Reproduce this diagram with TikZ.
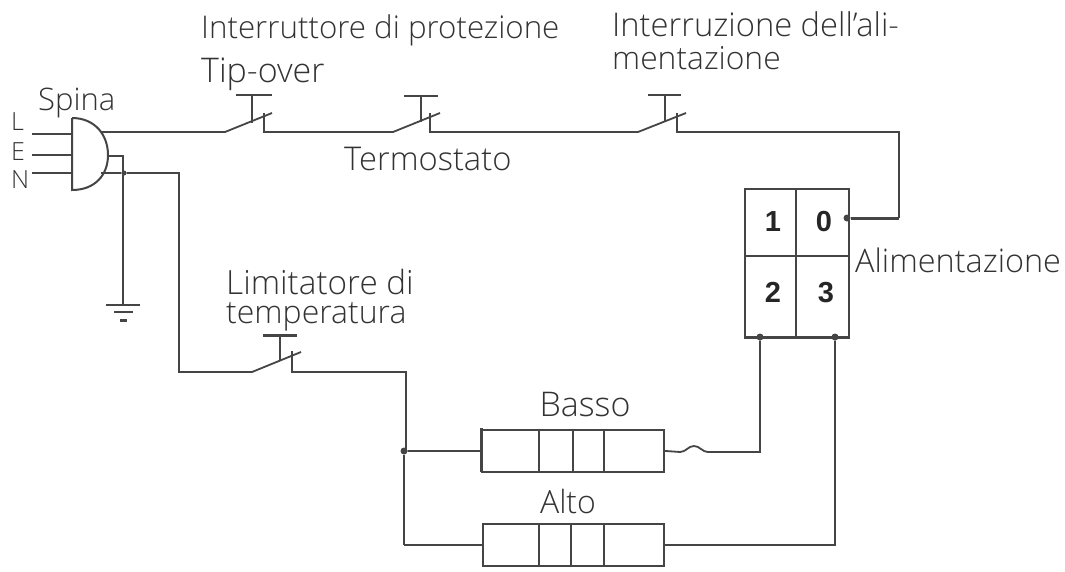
\documentclass[tikz,border=0pt]{standalone}
\usepackage{fontspec}
\setmainfont{Open Sans Light}
\newfontfamily\digitfont{Liberation Sans Bold}
\usetikzlibrary{calc}
\definecolor{wirecol}{gray}{0.27}
\definecolor{textcol}{gray}{0.2}
\tikzset{
  wire/.style={draw=wirecol,line width=1.8pt,line join=miter},
  heavy/.style={draw=wirecol,line width=3pt},
  lab/.style={anchor=base west,inner sep=0pt,text=textcol,font=\fontsize{#1}{#1}\selectfont},
  lab/.default=31,
  labsmall/.style={anchor=base west,inner sep=0pt,text=textcol,font=\fontsize{25}{25}\selectfont},
  labc/.style={anchor=base,inner sep=0pt,text=textcol,font=\fontsize{#1}{#1}\selectfont},
  labc/.default=31,
  digit/.style={anchor=base,inner sep=0pt,text=black!85,font=\digitfont\fontsize{29}{29}\selectfont},
  joint/.style={circle,fill=wirecol,inner sep=0pt,minimum size=7pt},
  cell/.style={draw=wirecol,line width=1.8pt,fill=white,minimum height=42pt,inner sep=0pt}
}
\begin{document}
\begin{tikzpicture}[x=1pt,y=-1pt]
\useasboundingbox (0,0) rectangle (1065,571);
\fill[white] (0,0) rectangle (1065,571);

\coordinate (plugtop) at (72,118);
\coordinate (plugbot) at (72,190);
\coordinate (lL) at (32,134);
\coordinate (lE) at (32,155);
\coordinate (lN) at (32,173);
\coordinate (pL) at (72,134);
\coordinate (pE) at (72,155);
\coordinate (pN) at (72,173);
\coordinate (oL) at (101,132);
\coordinate (oE) at (108,156);
\coordinate (oN) at (101,173);
\coordinate (eC) at (123,156);
\coordinate (gnd) at (123,305);
\coordinate (nJ) at (124,173);
\coordinate (nC) at (179,173);
\coordinate (nD) at (179,372);

\coordinate (a1) at (225,132); \coordinate (a2) at (272,113); \coordinate (a3) at (264,113); \coordinate (a4) at (264,132);
\coordinate (b1) at (393,132); \coordinate (b2) at (440,113); \coordinate (b3) at (430,113); \coordinate (b4) at (430,132);
\coordinate (c1) at (638,132); \coordinate (c2) at (686,113); \coordinate (c3) at (677,113); \coordinate (c4) at (677,132);
\coordinate (d1) at (252,372); \coordinate (d2) at (301,352); \coordinate (d3) at (292,351); \coordinate (d4) at (292,372);

% plug
\draw[wire,line width=2pt] (plugtop) -- (plugbot) .. controls (95,190) and (108,175) .. (108,155) .. controls (108,135) and (95,118) .. (plugtop);
\draw[wire] (lL) -- (pL);
\draw[wire] (lE) -- (pE);
\draw[wire] (lN) -- (pN);

% top line
\draw[wire] (oL) -- (a1) -- (a2);
\draw[wire] (a3) -- (a4) -- (b1) -- (b2);
\draw[wire] (b3) -- (b4) -- (c1) -- (c2);
\draw[wire] (c3) -- (c4) -- (899,132) coordinate (tr) -- (899,218) coordinate (br);
\node[joint,minimum size=7pt] (j0) at (847,218) {};
\draw[heavy] (br) -- (j0);

% push buttons
\draw[wire] (252,95) coordinate (a5) -- (252,123);
\draw[wire] (236,95) -- (272,95);
\draw[wire] (421,96) coordinate (b5) -- (421,122);
\draw[wire] (404,96) -- (438,96);
\draw[wire] (665,95) coordinate (c5) -- (665,122);
\draw[wire] (648,95) -- (681,95);
\draw[wire] (280,335) coordinate (d5) -- (280,361);
\draw[heavy] (263,335) -- (297,335);

% earth
\draw[wire] (oE) -- (eC) -- (gnd);
\draw[wire] (106,305) -- (140,305);
\draw[wire] (114,312) -- (133,312);
\draw[heavy] (120,320) -- (127,320);

% neutral line and thermal limiter
\node[joint,minimum size=5pt] (jN) at (nJ) {};
\draw[wire] (oN) -- (jN) -- (nC) -- (nD) -- (d1) -- (d2);
\draw[wire] (d3) -- (d4) -- (406,372) coordinate (e1) -- (406,451) coordinate (e2);
\node[joint] (jH) at (404,451) {};
\draw[wire] (jH) -- (404,545) coordinate (e3);

% element boxes
\node[cell,minimum width=182pt,anchor=north west] (basso) at (481,429) {};
\node[cell,minimum width=181pt,anchor=north west] (alto) at (482,523) {};
\foreach \x in {539,573,604} \draw[wire] (\x,429) -- (\x,471);
\foreach \x in {539,571,604} \draw[wire] (\x,523) -- (\x,565);
\draw[heavy] (481,428) -- (481,472);
\draw[wire] (jH) -- (basso.west);
\draw[wire] (e3) -- (alto.west);

% selector
\node[draw=wirecol,line width=1.8pt,minimum width=104pt,minimum height=149pt,inner sep=0pt,anchor=north west] (sel) at (744,188) {};
\draw[wire] (796,188) -- (796,337);
\draw[wire] (744,256) -- (848,256);
\draw[heavy] (744,337) -- (848,337);
\node[joint,minimum size=7pt] (j2) at (760,337) {};
\node[joint,minimum size=7pt] (j3) at (835,337) {};

% connections to selector
\draw[wire] (basso.east) -- (680,452) coordinate (f1) .. controls (686,452) and (688,446) .. (694,446) .. controls (700,446) and (702,452) .. (708,452) coordinate (f2) -- (760,452) coordinate (f3) -- (j2);
\draw[wire] (alto.east) -- (835,545) coordinate (f4) -- (j3);

% labels
\node[lab=31.3] (t1) at (201,38) {Interruttore di protezione};
\node[lab=34] (t2) at (201,82) {Tip-over};
\node[lab=32.7] (t3) at (612,36) {Interruzione dell'ali-};
\node[lab=31.8] (t4) at (612,69) {mentazione};
\node[lab=31] (t5) at (38,110) {Spina};
\node[lab=32.7] (t6) at (344,170) {Termostato};
\node[lab=33.3] (t7) at (226,294) {Limitatore di};
\node[lab=32] (t8) at (226,323) {temperatura};
\node[lab=32.4] (t9) at (855,272) {Alimentazione};
\node[labc=34] (t10) at (585,416) {Basso};
\node[labc=32] (t11) at (568,513) {Alto};
\node[labsmall] (t12) at (11,130) {L};
\node[labsmall] (t13) at (11,160) {E};
\node[labsmall] (t14) at (11,188) {N};
\node[digit] (n1) at (773,231) {1};
\node[digit] (n0) at (824,231) {0};
\node[digit] (n2) at (773,302) {2};
\node[digit] (n3) at (826,302) {3};
\end{tikzpicture}
\end{document}
